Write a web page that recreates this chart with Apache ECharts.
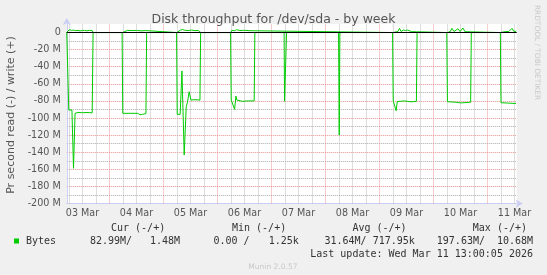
<!DOCTYPE html>
<html><head><meta charset="utf-8">
<script src="https://cdn.jsdelivr.net/npm/echarts@6/dist/echarts.min.js"></script>
<style>html,body{margin:0;padding:0;background:#f0f0f0;}#c{width:547px;height:275px;}</style>
</head><body><div id="c"></div>
<script>
// x = hours since 03 Mar 00:00 ; y = MB/s (read negative, write positive)
const dayLabels = ['03 Mar','04 Mar','05 Mar','06 Mar','07 Mar','08 Mar','09 Mar','10 Mar','11 Mar'];
const yTicks = [-200,-180,-160,-140,-120,-100,-80,-60,-40,-20,0];
const readData = [
 [5,0],[5.6,0],[5.9,-90.6],[7.3,-90.6],[8.0,-158.8],[8.7,-94.5],[10,-93.5],[12,-93.8],[14,-93.5],[16.3,-94],[16.7,0],
 [29.6,0],[29.9,-94.5],[36.5,-94.5],[37.5,-96],[38.7,-95.7],[39.5,-94.8],[40.2,-94.8],[40.5,0],
 [53.8,0],[54.1,-95.7],[55.4,-95.7],[56.2,-45],[57.2,-143.3],[58.1,-86.8],[58.7,-81],[59.4,-69.2],[60.2,-79],[62,-78.5],[64.2,-79],[64.5,0],
 [77.8,0],[78.1,-79],[78.7,-79.8],[79.6,-89.8],[80.2,-74.3],[80.6,-79],[83,-80.5],[85,-80],[88.3,-80],[88.6,0],
 [101.6,0],[101.8,-80.5],[102.5,-80.5],[102.7,0],
 [125.8,0],[126.1,-120],[126.4,0],
 [149.8,0],[150.1,-80.1],[150.9,-80.5],[151.4,-91.5],[151.9,-80.7],[155,-80],[158,-81],[160.4,-80.5],[160.7,0],
 [173.9,0],[174.2,-80.9],[178,-81.5],[180,-82.3],[182,-82],[184.5,-81.5],[184.8,0],
 [197.7,0],[198.0,-82.1],[201,-82.5],[204.7,-83]
];
const writeData = [
 [5,0],[5.6,0],[6.1,3.3],[7,2.6],[8,2.8],[9,2.2],[10,2.5],[11,1.9],[12,2.6],[13,2.4],[14,2.0],[15,2.6],[16.3,2.4],[16.7,0],
 [29.8,0],[30.3,2.2],[32,2.6],[34,2.3],[36,2.5],[38,2.0],[40.1,2.3],[40.5,0],
 [53.9,0],[54.4,2.2],[55.5,2.8],[56.5,3.6],[57.5,2.6],[58.3,3.3],[59.3,2.4],[60.5,2.9],[62,2.2],[63.5,2.5],[64.3,2.0],[64.6,0],
 [77.9,0],[78.4,2.6],[79.5,2.1],[80.5,3.3],[82,2.4],[84,2.6],[86,2.2],[88.3,2.1],[88.6,0],
 [149.9,0],[150.4,0.9],[152.2,1.2],[152.9,4.9],[153.6,1.2],[154.6,2.9],[155.5,2.4],[156.6,2.9],[157.4,4.1],[158.3,1.0],[160.5,0.9],[160.8,0],
 [174,0],[174.5,0.8],[175.4,1.0],[176.2,4.9],[177.1,1.2],[178.9,4.5],[179.8,1.2],[181.1,5.3],[182,1.0],[184.7,0.8],[185,0],
 [197.8,0],[198.3,1.0],[200,1.2],[200.7,3.3],[201.5,1.2],[202.9,4.9],[203.7,1.3],[204.7,1.5]
];
const titleText = 'Disk throughput for /dev/sda - by week';
const yName = 'Pr second read (-) / write (+)';
const legendHead = ['Cur (-/+)','Min (-/+)','Avg (-/+)','Max (-/+)'];
const legendName = 'Bytes';
const legendVals = ['82.99M/','1.48M','0.00 /','1.25k','31.64M/ 717.95k','197.63M/  10.68M'];
const lastUpdate = 'Last update: Wed Mar 11 13:00:05 2026';
const footer = 'Munin 2.0.57';
const sideText = 'RRDTOOL / TOBI OETIKER';

const X_MIN = 5, X_MAX = 205;
const hours = [];
for (let h = X_MIN; h <= X_MAX; h++) hours.push(String(h));

const axisCol = '#c9cdf3';
const RED = '#eb9a9a', GREY = '#bcbcbc';

// vertical grid: every 6 h, red at midnight
const vGrid = [];
for (let h = 6; h <= X_MAX; h += 6) {
  vGrid.push({xAxis: h, lineStyle: {color: h % 24 === 0 ? RED : GREY, type: [1, 1], width: 1}});
}

const headX = [111, 232, 352.4, 472.8];
const valX = [90, 150, 213.5, 268.7, 324.5, 436.8];
const mono = '10px "DejaVu Sans Mono"';
const graphics = [
 {type:'text', x:273.5, y:20, style:{text:titleText, font:'12.5px "DejaVu Sans"', fill:'#555', align:'center', verticalAlign:'middle'}},
 {type:'text', x:11.5, y:115, rotation:Math.PI/2, style:{text:yName, font:'11px "DejaVu Sans"', fill:'#555', align:'center', verticalAlign:'middle'}},
 {type:'text', x:536.5, y:52.5, rotation:-Math.PI/2, style:{text:sideText, font:'7.4px "DejaVu Sans"', fill:'#c8c8c8', align:'center', verticalAlign:'middle'}},
 {type:'text', x:272.9, y:267.2, style:{text:footer, font:'7.5px "DejaVu Sans"', fill:'#c8c8c8', align:'center', verticalAlign:'middle'}},
 {type:'rect', shape:{x:14, y:238.5, width:5, height:5}, style:{fill:'#00cc00'}},
 {type:'text', x:26, y:241.4, style:{text:legendName, font:mono, fill:'#333', verticalAlign:'middle'}},
 {type:'text', x:533, y:254.3, style:{text:lastUpdate, font:mono, fill:'#333', align:'right', verticalAlign:'middle'}}
];
legendHead.forEach((t,i)=>graphics.push({type:'text', x:headX[i], y:228.8, style:{text:t, font:mono, fill:'#333', verticalAlign:'middle'}}));
legendVals.forEach((t,i)=>graphics.push({type:'text', x:valX[i], y:241.4, style:{text:t, font:mono, fill:'#333', verticalAlign:'middle'}}));

const chart = echarts.init(document.getElementById('c'), null, {renderer:'canvas'});
chart.setOption({
 animation:false,
 backgroundColor:'#f0f0f0',
 grid:{left:66.75, right:30.25, top:24, bottom:71.5, show:true, backgroundColor:'#ffffff', borderWidth:0, containLabel:false},
 xAxis:[
  {type:'value', min:X_MIN, max:X_MAX, position:'bottom', show:false},
  {type:'category', data:hours, boundaryGap:false, position:'bottom',
   axisLine:{show:true, lineStyle:{color:axisCol, width:1}, symbol:['none','arrow'], symbolSize:[6,7], symbolOffset:[0,6]},
   axisTick:{show:false},
   axisLabel:{show:true, interval:(i,v)=>(+v)%24===12, formatter:(v)=>dayLabels[Math.floor((+v)/24)], color:'#555', fontFamily:'DejaVu Sans', fontSize:9.6, margin:5},
   splitLine:{show:false}}
 ],
 yAxis:[
  {type:'value', min:-200, max:10, interval:10, position:'left',
   axisLine:{show:true, lineStyle:{color:axisCol, width:1}, symbol:['none','arrow'], symbolSize:[6,7], symbolOffset:[0,6]},
   axisTick:{show:false},
   axisLabel:{show:true, showMaxLabel:false, margin:6, color:'#555', fontFamily:'DejaVu Sans', fontSize:9.6,
     formatter:(v)=> yTicks.indexOf(v)<0 ? '' : (v===0 ? '0' : v+' M')},
   splitLine:{show:true, showMinLine:true, showMaxLine:false, lineStyle:{color:['#e88c8c', '#a8a8a8'], type:[1,1], width:1}}}
 ],
 graphic:graphics,
 series:[
  {type:'line', name:'grid', xAxisIndex:0, yAxisIndex:0, data:[], z:1, silent:true,
   markLine:{silent:true, symbol:['none','none'], label:{show:false}, data:vGrid, z:1, animation:false}},
  {type:'line', name:'write', xAxisIndex:0, yAxisIndex:0, data:writeData, showSymbol:false, symbol:'none',
   lineStyle:{color:'#00cc00', width:1}, itemStyle:{color:'#00cc00'}, z:3},
  {type:'line', name:'read', xAxisIndex:0, yAxisIndex:0, data:readData, showSymbol:false, symbol:'none',
   lineStyle:{color:'#00cc00', width:1}, itemStyle:{color:'#00cc00'}, z:3,
   markLine:{silent:true, symbol:['none','none'], label:{show:false}, lineStyle:{color:'#000', type:'solid', width:1},
     data:[{yAxis:0}], z:5}}
 ]
});
</script></body></html>
